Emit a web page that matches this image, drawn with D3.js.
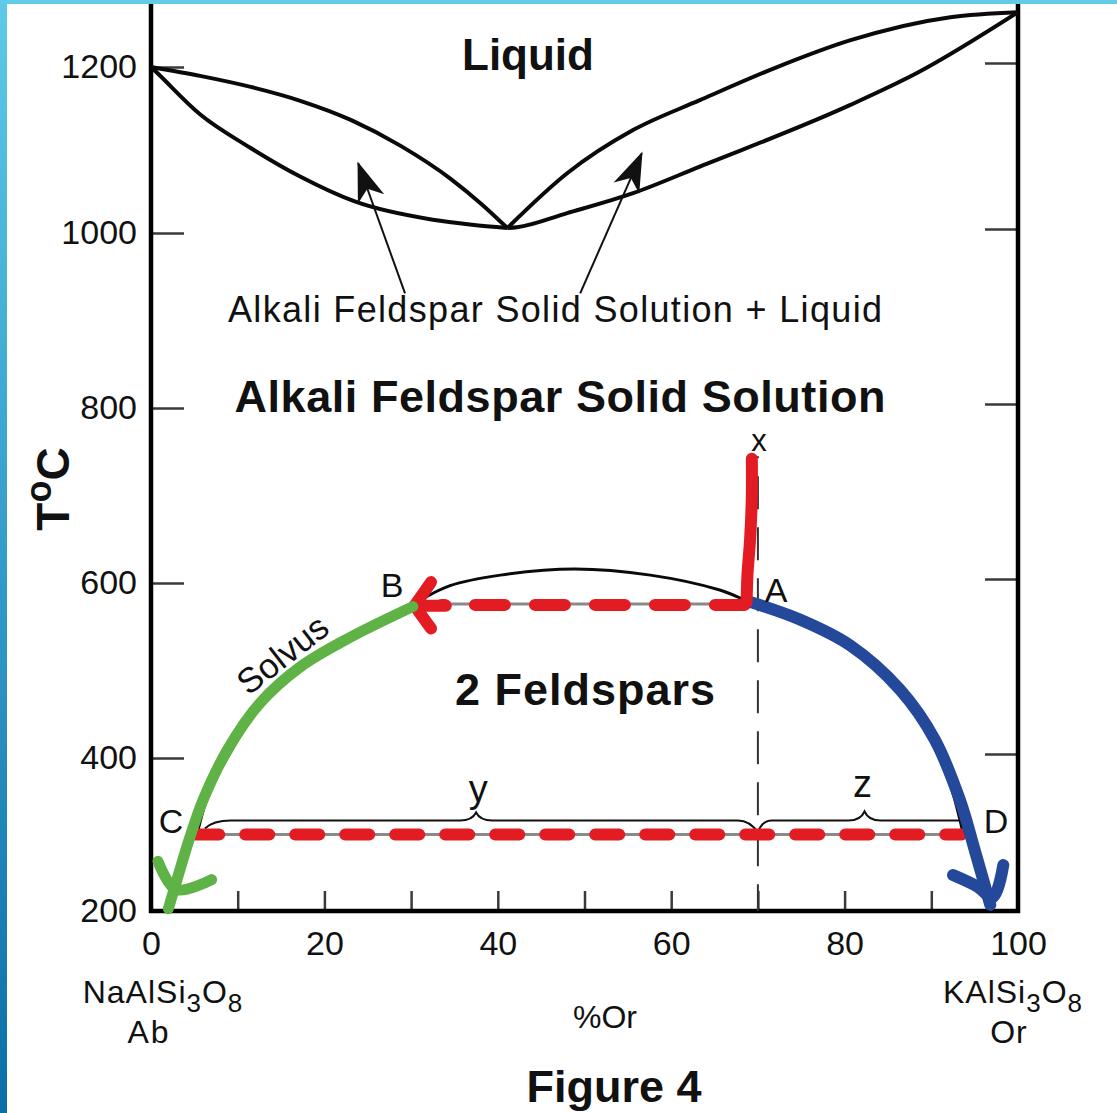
<!DOCTYPE html>
<html>
<head>
<meta charset="utf-8">
<title>Alkali feldspar phase diagram</title>
<script src="https://cdn.jsdelivr.net/npm/d3@7"></script>
<style>
  html, body { margin: 0; padding: 0; background: #fff; }
  svg { display: block; }
  text { font-family: "Liberation Sans", Arial, Helvetica, sans-serif; fill: #111; }
</style>
</head>
<body>
<svg id="chart" width="1117" height="1113"></svg>
<script>
// ---- axis ticks ----
const T_TICKS = [200, 400, 600, 800, 1000, 1200];
const OR_TICKS = [0, 10, 20, 30, 40, 50, 60, 70, 80, 90, 100];
const OR_LABELS = [0, 20, 40, 60, 80, 100];

// ---- melting loops: [%Or, T °C] ----
const LIQUIDUS_AB = [[0, 1200], [5.8, 1189], [11.5, 1176], [17.3, 1159], [23.1, 1136], [28.8, 1105], [34.6, 1065], [38.1, 1035], [41.1, 1006]];
const SOLIDUS_AB  = [[0, 1200], [0.7, 1193], [5.65, 1143], [11.4, 1103], [17.2, 1068], [23.5, 1038], [32.5, 1016], [37, 1010], [41.1, 1006]];
const LIQUIDUS_OR = [[41.1, 1006], [48, 1072], [55.6, 1124], [63.3, 1160], [72, 1199], [80.6, 1232], [92.2, 1260], [100, 1266]];
const SOLIDUS_OR  = [[41.1, 1006], [42.2, 1007], [48, 1024], [55.6, 1048], [63.3, 1080], [80.6, 1154], [88.4, 1193], [100, 1266]];

// ---- solvus ----
const SOLVUS = [[5.3, 300], [6.8, 358], [9.2, 407], [11.4, 444], [13.5, 472], [17.5, 506], [23.2, 538], [30.4, 577],
                [34.5, 597], [40.3, 609], [48.9, 616], [57.6, 609], [65.6, 592], [68.9, 579], [74.9, 558], [80.6, 529],
                [86.4, 478], [90.4, 421], [92.4, 358], [93.7, 300]];

// ---- cooling path of bulk composition x ----
const BULK_OR = 70;
const BULK_T_START = 745;
const PATH_X_TO_A = [[69.3, 742], [69.3, 700], [69.1, 650], [68.8, 610], [68.7, 578]];
const TIE_HIGH = { t: 575, from: 68.5, to: 33.5 };      // A -> B
const TIE_HIGH_GREY = { t: 576, from: 30.4, to: 68.9 };
const HEAD_B = [[32.3, 601], [30.4, 574], [32.3, 548]];
const SHAFT_B = [[30.4, 574], [34, 574]];
const TIE_LOW = { t: 300, from: 5.1, to: 93.5 };         // C -> D
const TIE_LOW_GREY = { t: 300, from: 4.8, to: 93.7 };
const C_OR = 5.3, D_OR = 93.7, Y_PEAK_OR = 37.5, Z_PEAK_OR = 82.3;

// Na-rich limb (B -> C) and K-rich limb (A -> D)
const LIMB_NA = [[30.2, 573], [23, 538], [17.2, 504], [12.6, 463], [8.8, 409], [6, 345], [4.5, 297], [3.1, 245], [2.0, 203]];
const LIMB_NA_HEAD = [[0.8, 265], [2.9, 228], [7.0, 241]];
const LIMB_K = [[68.9, 579], [74.9, 558], [80.6, 529], [86.4, 478], [90.4, 421], [93.3, 345], [95.0, 280], [96.8, 208]];
const LIMB_K_HEAD = [[92.5, 247], [95.3, 232], [97.1, 218], [98.3, 260]];

// pointer arrows from the two-phase label to the loops
const POINTERS = [
  { from: [29.3, 931], to: [23.9, 1084] },
  { from: [49.5, 931], to: [56.6, 1096] }
];

// ---- colours ----
const RED = "#e31c24", GREEN = "#5fb246", BLUE = "#24489a";

const svg = d3.select("#chart");
const W = 1117, H = 1113;

const x = d3.scaleLinear().domain([0, 100]).range([151, 1018]);
const y = d3.scaleLinear().domain([200, 400, 1000, 1200]).range([911, 758, 233, 67]);

const smooth = d3.line().x(d => x(d[0])).y(d => y(d[1])).curve(d3.curveMonotoneX);
const line = d3.line().x(d => x(d[0])).y(d => y(d[1])).curve(d3.curveCatmullRom.alpha(0.5));
const straight = d3.line().x(d => x(d[0])).y(d => y(d[1]));

// ---- slide frame gradient and arrow marker ----
const defs = svg.append("defs");
const grad = defs.append("linearGradient").attr("id", "edge").attr("x1", 0).attr("y1", 0).attr("x2", 0).attr("y2", 1);
grad.append("stop").attr("offset", 0).attr("stop-color", "#5ec9e8");
grad.append("stop").attr("offset", 1).attr("stop-color", "#0a6fa8");

defs.append("marker")
  .attr("id", "head").attr("viewBox", "-40 -16 44 32")
  .attr("refX", 0).attr("refY", 0)
  .attr("markerWidth", 44).attr("markerHeight", 32)
  .attr("markerUnits", "userSpaceOnUse").attr("orient", "auto")
  .append("path").attr("d", "M2,0 L-38,-14 L-27,0 L-38,14 Z").attr("fill", "#111");

// ---- axes ----
const gL = svg.append("g").attr("transform", `translate(${x(0)},0)`)
  .call(d3.axisLeft(y).tickValues(T_TICKS).tickSize(-33).tickPadding(14).tickFormat(d3.format("d")));
const gR = svg.append("g").attr("transform", `translate(${x(100)},-4)`)
  .call(d3.axisRight(y).tickValues(T_TICKS.slice(1)).tickSize(-33).tickFormat(""));
const gB = svg.append("g").attr("transform", `translate(0,${y(200)})`)
  .call(d3.axisBottom(x).tickValues(OR_TICKS).tickSize(-20).tickPadding(20)
    .tickFormat(d => OR_LABELS.includes(d) ? d : ""));

[gL, gR, gB].forEach(g => {
  g.select(".domain").remove();
  g.selectAll(".tick line").attr("stroke", "#3a3a3a").attr("stroke-width", 2.5);
  g.selectAll(".tick text").attr("font-size", 34).attr("fill", "#1a1a1a")
    .attr("font-family", '"Liberation Sans", Arial, sans-serif');
});

svg.append("rect")
  .attr("x", x(0)).attr("y", y(1290))
  .attr("width", x(100) - x(0)).attr("height", y(200) - y(1290))
  .attr("fill", "none").attr("stroke", "#000").attr("stroke-width", 4.5);

// ---- liquidus / solidus ----
[LIQUIDUS_AB, SOLIDUS_AB, LIQUIDUS_OR, SOLIDUS_OR].forEach(d => {
  svg.append("path").attr("d", smooth(d)).attr("fill", "none")
    .attr("stroke", "#0a0a0a").attr("stroke-width", 4).attr("stroke-linejoin", "round");
});

POINTERS.forEach(p => {
  svg.append("path").attr("d", straight([p.from, p.to]))
    .attr("stroke", "#111").attr("stroke-width", 2).attr("fill", "none")
    .attr("marker-end", "url(#head)");
});

// ---- solvus and tie lines ----
svg.append("path").attr("d", line(SOLVUS)).attr("fill", "none")
  .attr("stroke", "#0a0a0a").attr("stroke-width", 3);

[TIE_HIGH_GREY, TIE_LOW_GREY].forEach(t => {
  svg.append("path").attr("d", straight([[t.from, t.t], [t.to, t.t]]))
    .attr("stroke", "#8a8a8a").attr("stroke-width", 3);
});

svg.append("path").attr("d", straight([[BULK_OR, BULK_T_START], [BULK_OR, 200]]))
  .attr("stroke", "#333").attr("stroke-width", 2)
  .attr("stroke-dasharray", "33 18").attr("stroke-dashoffset", 31);

// braces for lever-rule segments y and z
const yTie = y(TIE_LOW.t), hb = yTie - 14;
const xm = x(BULK_OR), xp = x(Y_PEAK_OR), xz = x(Z_PEAK_OR);
const by = d3.path();
by.moveTo(x(C_OR) + 8, yTie - 6);
by.quadraticCurveTo(x(C_OR) + 16, hb, x(C_OR) + 34, hb);
by.lineTo(xp - 16, hb);
by.quadraticCurveTo(xp - 4, hb, xp, hb - 8);
by.quadraticCurveTo(xp + 4, hb, xp + 16, hb);
by.lineTo(xm - 20, hb);
by.quadraticCurveTo(xm - 8, hb, xm, yTie - 2);
by.moveTo(xm, yTie - 2);
by.quadraticCurveTo(xm + 4, hb, xm + 14, hb);
by.lineTo(xz - 16, hb);
by.quadraticCurveTo(xz - 4, hb, xz, hb - 9);
by.quadraticCurveTo(xz + 4, hb, xz + 16, hb);
by.lineTo(x(D_OR), hb);
svg.append("path").attr("d", by.toString()).attr("fill", "none")
  .attr("stroke", "#111").attr("stroke-width", 2);

// ---- red cooling path ----
svg.append("path").attr("d", straight([[TIE_LOW.from, TIE_LOW.t], [TIE_LOW.to, TIE_LOW.t]]))
  .attr("stroke", RED).attr("stroke-width", 12).attr("stroke-linecap", "round")
  .attr("stroke-dasharray", "24 26").attr("fill", "none");
svg.append("path").attr("d", straight([[TIE_HIGH.from, TIE_HIGH.t], [TIE_HIGH.to, TIE_HIGH.t]]))
  .attr("stroke", RED).attr("stroke-width", 12).attr("stroke-linecap", "round")
  .attr("stroke-dasharray", "30 30").attr("fill", "none");
[HEAD_B, SHAFT_B].forEach(d => {
  svg.append("path").attr("d", straight(d)).attr("fill", "none")
    .attr("stroke", RED).attr("stroke-width", 12)
    .attr("stroke-linecap", "round").attr("stroke-linejoin", "round");
});

// ---- coloured solvus limbs ----
[[LIMB_NA, GREEN, 11], [LIMB_NA_HEAD, GREEN, 11], [LIMB_K, BLUE, 12], [LIMB_K_HEAD, BLUE, 12]].forEach(([d, c, w]) => {
  svg.append("path").attr("d", line(d)).attr("fill", "none")
    .attr("stroke", c).attr("stroke-width", w)
    .attr("stroke-linecap", "round").attr("stroke-linejoin", "round");
});

svg.append("path").attr("d", line(PATH_X_TO_A)).attr("fill", "none")
  .attr("stroke", RED).attr("stroke-width", 12).attr("stroke-linecap", "round");

// ---- labels ----
function label(txt, px, py, o = {}) {
  const t = svg.append("text").attr("x", px).attr("y", py)
    .attr("text-anchor", o.anchor || "middle")
    .attr("font-size", o.size || 34)
    .attr("font-weight", o.weight || "normal")
    .text(txt);
  if (o.len) t.attr("textLength", o.len).attr("lengthAdjust", "spacing");
  return t;
}

label("Liquid", 528, 70, { size: 44, weight: "bold" });
label("Alkali Feldspar Solid Solution + Liquid", 555, 322, { size: 36, len: 654 });
label("Alkali Feldspar Solid Solution", 560, 412, { size: 45, weight: "bold", len: 651 });
label("2 Feldspars", 585, 705, { size: 45, weight: "bold", len: 260 });
label("Figure 4", 614, 1102, { size: 45, weight: "bold" });
label("%Or", 605, 1028, { size: 32 });

label("B", 392, 597, { size: 34 });
label("A", 776, 602, { size: 34 });
label("C", 171, 833, { size: 34 });
label("D", 996, 833, { size: 34 });
label("x", 759, 451, { size: 31 });
label("y", xp + 2, 802, { size: 38 });
label("z", xz - 2, 797, { size: 38 });

svg.append("text").attr("text-anchor", "middle").attr("font-size", 35)
  .attr("transform", "translate(290,664) rotate(-38)").text("Solvus");

const tc = svg.append("text").attr("text-anchor", "middle")
  .attr("font-size", 46).attr("font-weight", "bold")
  .attr("transform", "translate(69,489) rotate(-90)");
tc.append("tspan").text("T");
tc.append("tspan").attr("font-size", 36).attr("dy", -18).text("o");
tc.append("tspan").attr("dy", 18).text("C");

function formula(parts, px, py) {
  const t = svg.append("text").attr("x", px).attr("y", py)
    .attr("text-anchor", "middle").attr("font-size", 32).attr("letter-spacing", 1);
  let shift = 0;
  parts.forEach(([s, sub]) => {
    const dy = (sub ? 9 : 0) - shift;
    shift = sub ? 9 : 0;
    t.append("tspan").attr("dy", dy).attr("font-size", sub ? 26 : 32).text(s);
  });
}
formula([["NaAlSi", false], ["3", true], ["O", false], ["8", true]], 163, 1003);
label("Ab", 149, 1043, { size: 32 }).attr("letter-spacing", 2);
formula([["KAlSi", false], ["3", true], ["O", false], ["8", true]], 1013, 1003);
label("Or", 1009, 1043, { size: 32 }).attr("letter-spacing", 1);

// ---- slide edge bands ----
svg.append("rect").attr("x", 0).attr("y", 0).attr("width", 7).attr("height", H).attr("fill", "url(#edge)");
svg.append("rect").attr("x", 0).attr("y", 0).attr("width", W).attr("height", 4).attr("fill", "#62cbe8");
</script>
</body>
</html>
